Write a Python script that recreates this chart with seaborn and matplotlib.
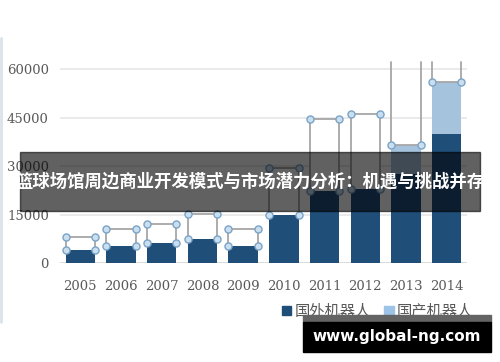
import matplotlib
matplotlib.use("Agg")
import matplotlib.pyplot as plt
import matplotlib.patches as mpatches
import pandas as pd
import seaborn as sns

# 数据
years = ["2005", "2006", "2007", "2008", "2009", "2010", "2011", "2012", "2013", "2014"]
foreign = [4100, 5300, 6200, 7600, 5200, 15000, 22400, 23100, 27600, 39900]
domestic = [4100, 5200, 5900, 7600, 5300, 14500, 22200, 22900, 8800, 16000]
series_names = ["国外机器人", "国产机器人"]
title_text = "篮球场馆周边商业开发模式与市场潜力分析：机遇与挑战并存"
watermark = "www.global-ng.com"

dark_blue = "#1f4e79"
light_blue = "#9dc3e6"
grey_txt = "#595959"
line_grey = "#a6a6a6"

df = pd.DataFrame({"year": years, "foreign": foreign, "domestic": domestic})
df["total"] = df["foreign"] + df["domestic"]
# 前几年的国产系列在原图中是空心框
fills = ["#ffffff"] * 8 + [light_blue] * 2

sns.set_style("white")
plt.rcParams["font.family"] = ["DejaVu Serif"]

fig = plt.figure(figsize=(5, 3.62), dpi=100)
ax = fig.add_axes([0.12, 0.2727, 0.814, 0.556])

ymax = 62200
sns.barplot(data=df, x="year", y="total", hue="year", palette=fills, legend=False,
            width=0.72, linewidth=0, ax=ax, zorder=2)
sns.barplot(data=df, x="year", y="foreign", color=dark_blue, saturation=1,
            width=0.72, linewidth=0, ax=ax, zorder=3)

ax.set_ylim(0, ymax)
ax.set_xlim(-0.5, len(years) - 0.5)
ax.set_yticks([0, 15000, 30000, 45000, 60000])
ax.yaxis.grid(True, color="#e6e6e6", linewidth=1.2)
ax.set_axisbelow(True)
ax.axhline(0, color="#d9d9d9", linewidth=1.2, zorder=1)
for s in ax.spines.values():
    s.set_visible(False)
ax.set_xlabel("")
ax.set_ylabel("")
ax.tick_params(axis="both", length=0, labelsize=9.5, colors=grey_txt)
ax.tick_params(axis="y", pad=8)
ax.tick_params(axis="x", pad=12)

# 选中框的线条和圆点
bars = ax.patches[len(years):2 * len(years)]
for i, b in enumerate(bars):
    x0, x1 = b.get_x(), b.get_x() + b.get_width()
    lo, hi = df["foreign"][i], df["total"][i]
    ax.plot([x0, x1], [hi, hi], color=line_grey, lw=1.3, zorder=4)
    if i < 8:
        ax.plot([x0, x0], [lo, hi], color=line_grey, lw=1.3, zorder=4)
        ax.plot([x1, x1], [lo, hi], color=line_grey, lw=1.3, zorder=4)
        ys = [lo, lo, hi, hi]
        xs = [x0, x1, x0, x1]
    else:
        ax.plot([x0, x0], [hi, ymax], color=line_grey, lw=1.3, zorder=4, clip_on=False)
        ax.plot([x1, x1], [hi, ymax], color=line_grey, lw=1.3, zorder=4, clip_on=False)
        ys = [hi, hi]
        xs = [x0, x1]
    ax.scatter(xs, ys, s=26, facecolor="#c9dff0", edgecolor="#7ba3c6", linewidth=1, zorder=5)

# 图例
handles = [mpatches.Patch(color=dark_blue), mpatches.Patch(color=light_blue)]
fig.legend(handles, series_names, loc="center", bbox_to_anchor=(0.755, 0.14), ncol=2,
           frameon=False, handlelength=0.6, handleheight=0.6, handletextpad=0.2,
           columnspacing=0.9, prop={"family": ["Noto Sans CJK SC"], "size": 11},
           labelcolor=grey_txt)

# 左侧边框
fig.add_artist(plt.Line2D([0.002, 0.002], [1 - 38 / 362, 1 - 322 / 362], color="#dae3ea", lw=2))

# 标题横幅
fig.add_artist(mpatches.Rectangle((20 / 500, 1 - 211 / 362), 460 / 500, 59 / 362,
                                  transform=fig.transFigure, color="black", alpha=0.62, zorder=10))
fig.text(0.5, 1 - 182 / 362, title_text, ha="center", va="center", color="white",
         fontsize=12.5, fontweight="bold", family=["Noto Sans CJK SC", "DejaVu Sans"], zorder=11)

# 水印
fig.add_artist(mpatches.Rectangle((303 / 500, 1 - 322 / 362), 188 / 500, 7 / 362,
                                  transform=fig.transFigure, color="#646464", zorder=10))
fig.add_artist(mpatches.Rectangle((303 / 500, 1 - 352 / 362), 188 / 500, 30 / 362,
                                  transform=fig.transFigure, color="black", zorder=10))
fig.text(397 / 500, 1 - 337 / 362, watermark, ha="center", va="center", color="white",
         fontsize=11, fontweight="bold", family=["DejaVu Sans"], zorder=11)

fig.savefig("out.png", dpi=100)
